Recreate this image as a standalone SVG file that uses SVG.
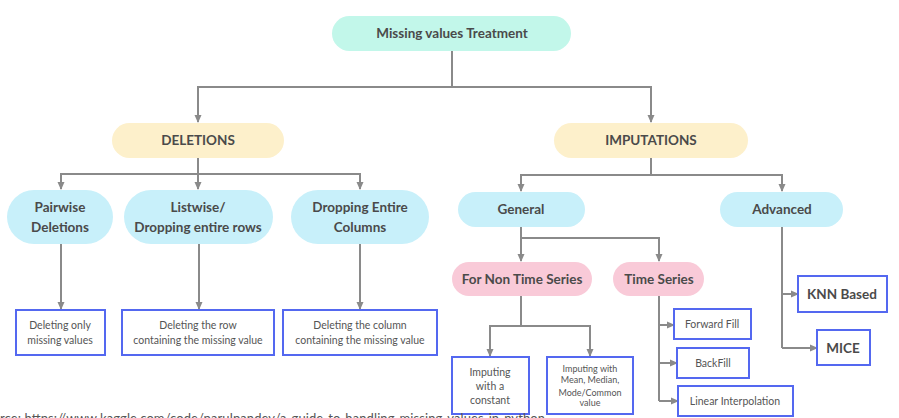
<svg xmlns="http://www.w3.org/2000/svg" width="899" height="418" viewBox="0 0 899 418">
<style>
text{font-family:Lato,"Open Sans","Liberation Sans",sans-serif;fill:#4a4a4a;text-anchor:middle}
.t{font-weight:bold;font-size:13.5px}
.s{font-size:10.5px;fill:#555}
.b{fill:#fff;stroke:#5468f0;stroke-width:2}
.g{fill:#c2f7ea}.y{fill:#fdf0cb}.c{fill:#c8f0fa}.p{fill:#f9cad8}
#connectors path{fill:none;stroke:#8a8a8a;stroke-width:2}
.a{marker-end:url(#ah)}
</style>
<defs>
<marker id="ah" markerUnits="userSpaceOnUse" markerWidth="8" markerHeight="8" refX="7" refY="4" orient="auto">
<path d="M0,0.5 L8,4 L0,7.5z" fill="#8a8a8a"/>
</marker>
</defs>
<rect width="899" height="418" fill="#fff"/>
<g id="connectors">
<path d="M452,51V87"/>
<path class="a" d="M452,87H198V122"/>
<path class="a" d="M452,87H651V122"/>
<path d="M198,158V174"/>
<path class="a" d="M198,174H61V189"/>
<path class="a" d="M198,174V189"/>
<path class="a" d="M198,174H360V189"/>
<path class="a" d="M61,244V309"/>
<path class="a" d="M199,244V309"/>
<path class="a" d="M360,244V309"/>
<path d="M651,158V175"/>
<path class="a" d="M651,175H521V191"/>
<path class="a" d="M651,175H782V191"/>
<path d="M521,227V238"/>
<path class="a" d="M521,238V261"/>
<path class="a" d="M521,238H659V261"/>
<path d="M521,296V326"/>
<path class="a" d="M521,326H490V356"/>
<path class="a" d="M521,326H590V356"/>
<path d="M659,296V401"/>
<path class="a" d="M659,325H674"/>
<path class="a" d="M659,363H677"/>
<path class="a" d="M659,401H678"/>
<path d="M782,227V348"/>
<path class="a" d="M782,294H798"/>
<path class="a" d="M782,348H817"/>
</g>
<g id="root"><rect class="g" x="332" y="16" width="239" height="35" rx="17.5"/><text class="t" x="452" y="38">Missing values Treatment</text></g>
<g id="deletions"><rect class="y" x="112" y="123" width="172" height="35" rx="17.5"/><text class="t" x="198" y="145">DELETIONS</text></g>
<g id="imputations"><rect class="y" x="554" y="123" width="194" height="35" rx="17.5"/><text class="t" x="651" y="145">IMPUTATIONS</text></g>
<g id="pairwise"><rect class="c" x="7" y="190" width="106" height="54" rx="27"/><text class="t" x="60" y="212">Pairwise</text><text class="t" x="60" y="232">Deletions</text></g>
<g id="listwise"><rect class="c" x="124" y="190" width="149" height="54" rx="27"/><text class="t" x="198" y="212">Listwise/</text><text class="t" x="198" y="232">Dropping entire rows</text></g>
<g id="dropcols"><rect class="c" x="291" y="190" width="138" height="54" rx="27"/><text class="t" x="360" y="212">Dropping Entire</text><text class="t" x="360" y="232">Columns</text></g>
<g id="del1"><rect class="b" x="16" y="310" width="89" height="45"/><text class="s" x="60" y="329">Deleting only</text><text class="s" x="60" y="344">missing values</text></g>
<g id="del2"><rect class="b" x="122" y="310" width="152" height="45"/><text class="s" x="198" y="329">Deleting the row</text><text class="s" x="198" y="344">containing the missing value</text></g>
<g id="del3"><rect class="b" x="283" y="310" width="154" height="45"/><text class="s" x="360" y="329">Deleting the column</text><text class="s" x="360" y="344">containing the missing value</text></g>
<g id="general"><rect class="c" x="458" y="192" width="127" height="35" rx="17.5"/><text class="t" x="521" y="214">General</text></g>
<g id="advanced"><rect class="c" x="720" y="192" width="123" height="35" rx="17.5"/><text class="t" x="782" y="214">Advanced</text></g>
<g id="nontime"><rect class="p" x="452" y="262" width="140" height="34" rx="17"/><text class="t" x="522" y="284">For Non Time Series</text></g>
<g id="timeseries"><rect class="p" x="613" y="262" width="91" height="34" rx="17"/><text class="t" x="659" y="284">Time Series</text></g>
<g id="constant"><rect class="b" x="452" y="357" width="77" height="57"/><text class="s" x="490" y="376" font-size="11">Imputing</text><text class="s" x="490" y="390">with a</text><text class="s" x="490" y="404">constant</text></g>
<g id="mean"><rect class="b" x="547" y="357" width="86" height="57"/><text class="s" x="590" y="372" style="font-size:9px">Imputing with</text><text class="s" x="590" y="383" style="font-size:9px">Mean, Median,</text><text class="s" x="590" y="396" style="font-size:9px">Mode/Common</text><text class="s" x="590" y="406" style="font-size:9px">value</text></g>
<g id="ffill"><rect class="b" x="674" y="309" width="77" height="30"/><text class="s" x="712" y="328">Forward Fill</text></g>
<g id="bfill"><rect class="b" x="677" y="348" width="72" height="30"/><text class="s" x="713" y="367">BackFill</text></g>
<g id="linear"><rect class="b" x="678" y="386" width="115" height="30"/><text class="s" x="735" y="405">Linear Interpolation</text></g>
<g id="knn"><rect class="b" x="798" y="276" width="89" height="36"/><text class="t" x="842" y="299">KNN Based</text></g>
<g id="mice"><rect class="b" x="817" y="330" width="53" height="35"/><text class="t" x="843" y="353">MICE</text></g>
<text x="0" y="423" font-size="13" style="text-anchor:start;fill:#555" textLength="545">rce: https://www.kaggle.com/code/parulpandey/a-guide-to-handling-missing-values-in-python</text>
</svg>
